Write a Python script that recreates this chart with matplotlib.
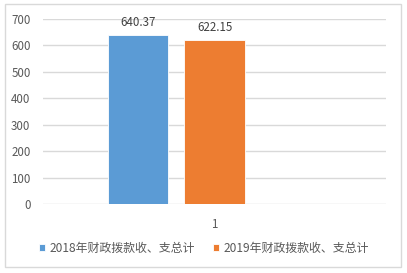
import matplotlib
matplotlib.use("Agg")
import matplotlib.pyplot as plt
from matplotlib.patches import Rectangle

plt.rcParams['font.family'] = ['Noto Sans CJK SC', 'DejaVu Sans']

categories = ["1"]
series_names = ["2018年财政拨款收、支总计", "2019年财政拨款收、支总计"]
values_2018 = [640.37]
values_2019 = [622.15]
colors = ["#5B9BD5", "#ED7D31"]
yticks = [0, 100, 200, 300, 400, 500, 600, 700]

fig = plt.figure(figsize=(4.07, 2.73), dpi=100)
fig.patches.append(Rectangle((5/407, 1-267/273), 396/407, 263/273, transform=fig.transFigure,
                             fill=False, edgecolor="#D9D9D9", linewidth=1.0))
ax = fig.add_axes([43/407, 1-204.3/273, 343/407, (204.3-19)/273])

x = list(range(len(categories)))
width = 0.175
offsets = [-0.223, 0.0]
for vals, off, col, name in zip([values_2018, values_2019], offsets, colors, series_names):
    pos = [xi + off for xi in x]
    bars = ax.bar(pos, vals, width=width, color=col, label=name, zorder=3,
                  edgecolor="white", linewidth=0.6)
    for b, v in zip(bars, vals):
        ax.text(b.get_x() + b.get_width()/2, v + 22, f"{v:.2f}", ha="center", va="bottom",
                fontsize=8.3, color="#404040")

ax.set_xlim(-0.5, 0.5)
ax.set_ylim(0, 700)
ax.set_yticks(yticks)
ax.set_xticks(x)
ax.set_xticklabels(categories)
ax.grid(axis="y", color="#D9D9D9", linewidth=1.0, zorder=0)
for s in ax.spines.values():
    s.set_visible(False)
ax.tick_params(axis="both", length=0, labelsize=8.3, colors="#595959")
ax.tick_params(axis="y", pad=9)
ax.tick_params(axis="x", pad=10)

handles, labels = ax.get_legend_handles_labels()
fig.legend(handles, labels, loc="center", bbox_to_anchor=(0.501, 1-248/273), ncol=2,
           frameon=False, fontsize=8.6, handlelength=0.55, handleheight=0.55,
           handletextpad=0.35, columnspacing=1.5, labelcolor="#595959")

fig.savefig("out.png", dpi=100)
